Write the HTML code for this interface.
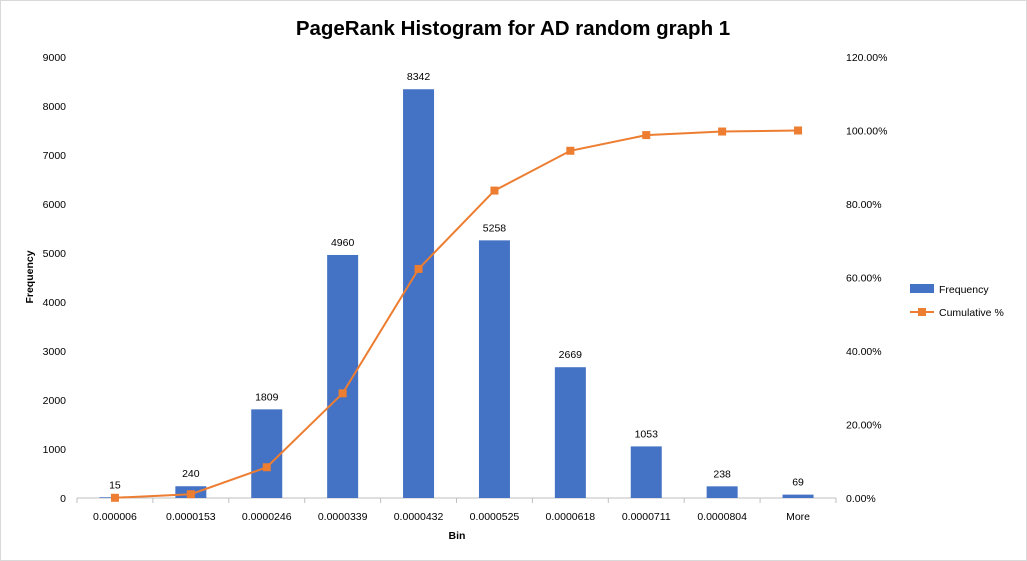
<!DOCTYPE html>
<html><head><meta charset="utf-8"><style>
body{margin:0;background:#fff;}
svg{display:block;font-family:"Liberation Sans",sans-serif;}
</style></head><body>
<svg id="chart" width="1027" height="561" xmlns="http://www.w3.org/2000/svg">
<rect x="0.5" y="0.5" width="1026" height="560" fill="#fff" stroke="#d9d9d9"/>
<text x="513" y="35" text-anchor="middle" font-size="20.5" font-weight="bold" fill="#000">PageRank Histogram for AD random graph 1</text>
<text transform="translate(33,277) rotate(-90)" text-anchor="middle" font-size="10.5" font-weight="bold">Frequency</text>
<text x="457" y="539" text-anchor="middle" font-size="10.5" font-weight="bold">Bin</text>
<g id="axes"></g><g id="bars"></g><g id="line"></g>
<g>
<rect x="910" y="284" width="24" height="9" fill="#4472c4"/>
<text x="939" y="293" font-size="10.5">Frequency</text>
<line x1="910" y1="312" x2="934" y2="312" stroke="#ed7d31" stroke-width="2"/>
<rect x="918" y="308" width="8" height="8" fill="#ed7d31"/>
<text x="939" y="316" font-size="10.5">Cumulative %</text>
</g>
</svg>
<script>
const categories=["0.000006","0.0000153","0.0000246","0.0000339","0.0000432","0.0000525","0.0000618","0.0000711","0.0000804","More"];
const frequency=[15,240,1809,4960,8342,5258,2669,1053,238,69];
const cumulative=[0.06,1.03,8.37,28.49,62.33,83.65,94.48,98.75,99.72,100];
const leftTicks=[0,1000,2000,3000,4000,5000,6000,7000,8000,9000];
const rightTicks=[0,20,40,60,80,100,120];
const NS="http://www.w3.org/2000/svg";
const X0=77,X1=836,Y0=498,Y1=57;
const bw=(X1-X0)/categories.length;
const xc=i=>X0+bw*(i+0.5);
const yL=v=>Y0-(v/9000)*(Y0-Y1);
const yR=v=>Y0-(v/120)*(Y0-Y1);
function mk(tag,attrs,parent,txt){const e=document.createElementNS(NS,tag);for(const k in attrs)e.setAttribute(k,attrs[k]);if(txt!==undefined)e.textContent=txt;parent.appendChild(e);return e;}
const ax=document.getElementById('axes');
let e=mk('line',{x1:X0,y1:Y0,x2:X1,y2:Y0,stroke:'#bfbfbf'},ax);


for(let i=0;i<=categories.length;i++){
  mk('line',{x1:X0+bw*i,y1:Y0,x2:X0+bw*i,y2:Y0+5,stroke:'#bfbfbf'},ax);
}
categories.forEach((c,i)=>{
  e=mk('text',{x:xc(i),y:520,'text-anchor':'middle','font-size':10.5,fill:'#000'},ax,c);
  
  
});
leftTicks.forEach(v=>{
  e=mk('text',{x:66,y:yL(v)+4,'text-anchor':'end','font-size':10.5},ax,v);
  
  
});
rightTicks.forEach(v=>{
  e=mk('text',{x:846,y:yR(v)+4,'text-anchor':'start','font-size':10.5},ax,v.toFixed(2)+'%');
  
  
});
const bars=document.getElementById('bars');
frequency.forEach((v,i)=>{
  e=mk('rect',{x:xc(i)-15.5,y:yL(v),width:31,height:Y0-yL(v),fill:'#4472c4'},bars);
  
  
  e=mk('text',{x:xc(i),y:yL(v)-9,'text-anchor':'middle','font-size':10.5},bars,v);
  
  
});
const lg=document.getElementById('line');
e=mk('polyline',{points:cumulative.map((v,i)=>xc(i)+','+yR(v)).join(' '),fill:'none',stroke:'#ed7d31','stroke-width':2},lg);


cumulative.forEach((v,i)=>{
  e=mk('rect',{x:xc(i)-4,y:yR(v)-4,width:8,height:8,fill:'#ed7d31'},lg);
  
  
});
</script>
</body></html>
